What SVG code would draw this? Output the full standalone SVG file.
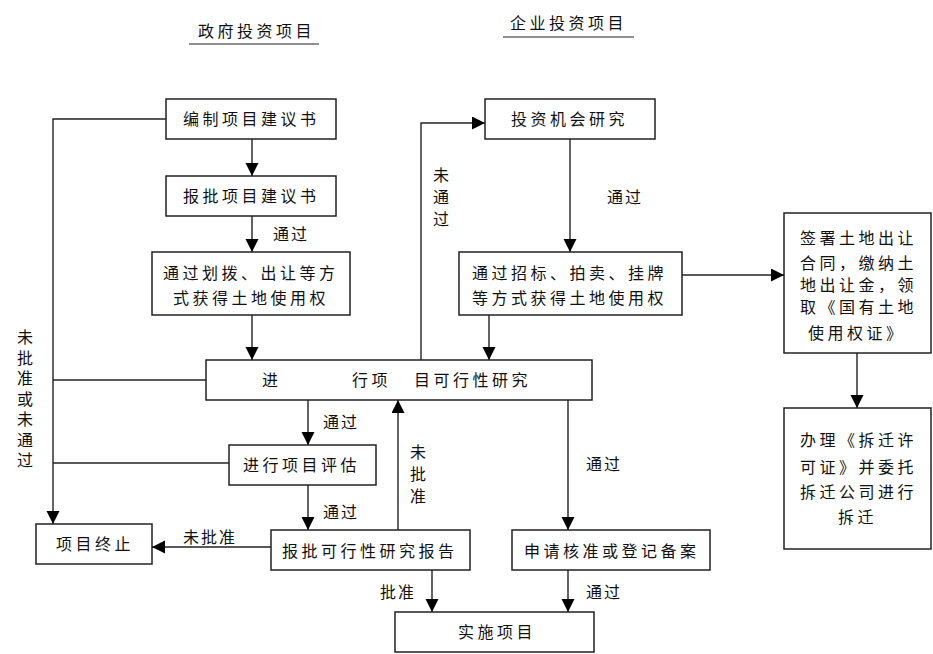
<svg xmlns="http://www.w3.org/2000/svg" width="933" height="654" viewBox="0 0 933 654">
<style>
.box{fill:#fff;stroke:#222;stroke-width:1.5}
.t{font-family:"Liberation Serif","Noto Sans CJK SC",serif;font-size:16px;fill:#111;letter-spacing:3.5px}
.l{font-family:"Liberation Serif","Noto Sans CJK SC",serif;font-size:16px;fill:#111;letter-spacing:2px}
.c{fill:none;stroke:#222;stroke-width:1.4}
</style>
<defs>
<marker id="ah" markerUnits="userSpaceOnUse" markerWidth="14" markerHeight="14" refX="13" refY="6.5" orient="auto" viewBox="0 0 14 14">
<path d="M0,0 L13,6.5 L0,13 z" fill="#000"/>
</marker>
</defs>
<rect width="933" height="654" fill="#fff"/>
<g id="titles">
<text class="t" x="198" y="37">政府投资项目</text>
<line x1="189" y1="44" x2="319" y2="44" stroke="#222" stroke-width="1.2"/>
<text class="t" x="510" y="29">企业投资项目</text>
<line x1="503" y1="37" x2="634" y2="37" stroke="#222" stroke-width="1.2"/>
</g>
<g id="connectors">
<path class="c" d="M252,139 V176" marker-end="url(#ah)"/>
<path class="c" d="M252,216 V252" marker-end="url(#ah)"/>
<path class="c" d="M252,315 V360" marker-end="url(#ah)"/>
<path class="c" d="M166,119 H53 V524" marker-end="url(#ah)"/>
<path class="c" d="M206,380 H53"/>
<path class="c" d="M229,463 H53"/>
<path class="c" d="M308,400 V445" marker-end="url(#ah)"/>
<path class="c" d="M308,485 V530" marker-end="url(#ah)"/>
<path class="c" d="M271,547 H152" marker-end="url(#ah)"/>
<path class="c" d="M398,530 V400" marker-end="url(#ah)"/>
<path class="c" d="M432,570 V612" marker-end="url(#ah)"/>
<path class="c" d="M421,360 V123 H485" marker-end="url(#ah)"/>
<path class="c" d="M570,139 V252" marker-end="url(#ah)"/>
<path class="c" d="M489,315 V360" marker-end="url(#ah)"/>
<path class="c" d="M682,275 H784" marker-end="url(#ah)"/>
<path class="c" d="M857,353 V408" marker-end="url(#ah)"/>
<path class="c" d="M568,400 V530" marker-end="url(#ah)"/>
<path class="c" d="M568,570 V612" marker-end="url(#ah)"/>
<text class="l" x="273" y="240">通过</text>
<text class="l" x="323" y="428">通过</text>
<text class="l" x="323" y="518">通过</text>
<text class="l" x="183" y="543">未批准</text>
<text class="l" x="380" y="598">批准</text>
<text class="l" x="607" y="203">通过</text>
<text class="l" x="586" y="470">通过</text>
<text class="l" x="586" y="598">通过</text>
<text class="l" x="410" y="458"><tspan x="410" dy="0">未</tspan><tspan x="410" dy="22">批</tspan><tspan x="410" dy="22">准</tspan></text>
<text class="l" x="433" y="181"><tspan x="433" dy="0">未</tspan><tspan x="433" dy="22">通</tspan><tspan x="433" dy="22">过</tspan></text>
<text class="l" x="17" y="343"><tspan x="17" dy="0">未</tspan><tspan x="17" dy="20.5">批</tspan><tspan x="17" dy="20.5">准</tspan><tspan x="17" dy="20.5">或</tspan><tspan x="17" dy="20.5">未</tspan><tspan x="17" dy="20.5">通</tspan><tspan x="17" dy="20.5">过</tspan></text>
</g>
<g id="n1"><rect class="box" x="166" y="99" width="170" height="40"/><text class="t" x="183" y="125">编制项目建议书</text></g>
<g id="n2"><rect class="box" x="166" y="176" width="170" height="40"/><text class="t" x="183" y="202">报批项目建议书</text></g>
<g id="n3"><rect class="box" x="152" y="252" width="198" height="63"/><text class="t" x="163" y="279">通过划拨、出让等方</text><text class="t" x="173" y="304">式获得土地使用权</text></g>
<g id="n4"><rect class="box" x="206" y="360" width="386" height="40"/><text class="t" x="262" y="386">进</text><text class="t" x="352" y="386">行项</text><text class="t" x="414" y="386">目可行性研究</text></g>
<g id="n5"><rect class="box" x="229" y="445" width="147" height="40"/><text class="t" x="243" y="471">进行项目评估</text></g>
<g id="n6"><rect class="box" x="271" y="530" width="199" height="40"/><text class="t" x="282" y="557">报批可行性研究报告</text></g>
<g id="n7"><rect class="box" x="36" y="524" width="116" height="40"/><text class="t" x="56" y="550">项目终止</text></g>
<g id="n8"><rect class="box" x="395" y="612" width="199" height="40"/><text class="t" x="458" y="638">实施项目</text></g>
<g id="n9"><rect class="box" x="485" y="99" width="170" height="40"/><text class="t" x="511" y="125">投资机会研究</text></g>
<g id="n10"><rect class="box" x="459" y="252" width="223" height="63"/><text class="t" x="472" y="279">通过招标、拍卖、挂牌</text><text class="t" x="472" y="304">等方式获得土地使用权</text></g>
<g id="n11"><rect class="box" x="784" y="213" width="147" height="140"/>
<text class="t" x="800" y="244">签署土地出让</text><text class="t" x="800" y="269">合同，缴纳土</text><text class="t" x="800" y="291">地出让金，领</text><text class="t" x="800" y="313">取《国有土地</text><text class="t" x="808" y="339">使用权证》</text></g>
<g id="n12"><rect class="box" x="784" y="408" width="147" height="141"/>
<text class="t" x="800" y="446">办理《拆迁许</text><text class="t" x="800" y="473">可证》并委托</text><text class="t" x="800" y="498">拆迁公司进行</text><text class="t" x="838" y="523">拆迁</text></g>
<g id="n13"><rect class="box" x="512" y="530" width="198" height="40"/><text class="t" x="524" y="557">申请核准或登记备案</text></g>
</svg>
